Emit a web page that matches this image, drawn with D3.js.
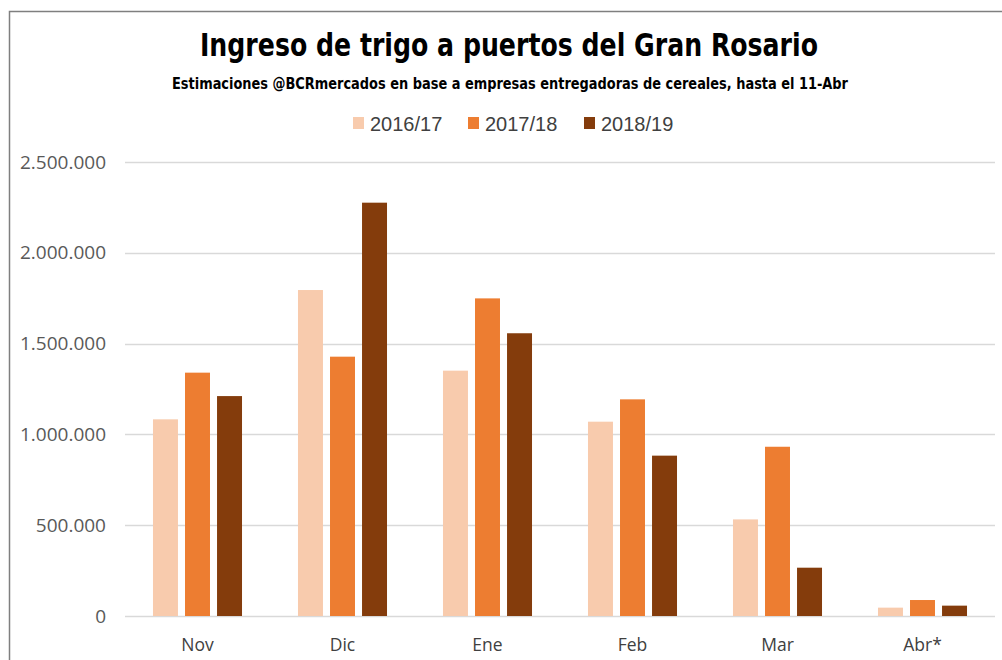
<!DOCTYPE html>
<html>
<head>
<meta charset="utf-8">
<script src="https://cdn.jsdelivr.net/npm/d3@7"></script>
<style>
  body { margin: 0; background: #fff; }
  svg { display: block; }
</style>
</head>
<body>
<div id="chart"></div>
<script>
const categories = ["Nov", "Dic", "Ene", "Feb", "Mar", "Abr*"];
const seriesNames = ["2016/17", "2017/18", "2018/19"];
const colors = ["#F8CBAD", "#ED7D31", "#843C0C"];
const v201617 = [1083000, 1795000, 1351000, 1070000, 532000, 46000];
const v201718 = [1340000, 1428000, 1749000, 1193000, 932000, 88000];
const v201819 = [1211000, 2276000, 1557000, 883000, 266000, 57000];
const yTicks = [0, 500000, 1000000, 1500000, 2000000, 2500000];

const width = 1002;
const height = 660;
const margin = { top: 162, right: 7, bottom: 44, left: 125 };

const values = [v201617, v201718, v201819];
const data = categories.map((c, i) => ({
  cat: c,
  vals: seriesNames.map((s, j) => ({ key: s, value: values[j][i], color: colors[j] }))
}));

const svg = d3.select("#chart").append("svg")
  .attr("width", width)
  .attr("height", height);

// frame (only top and left show in the crop)
svg.append("path")
  .attr("d", `M9.5,${height} V11.5 H${width}`)
  .attr("fill", "none")
  .attr("stroke", "#7f7f7f")
  .attr("stroke-width", 1.5);

const x0 = d3.scaleBand().domain(categories)
  .range([margin.left, width - margin.right])
  .paddingInner(0.386).paddingOuter(0.193);
const x1 = d3.scaleBand().domain(seriesNames)
  .range([0, x0.bandwidth()])
  .paddingInner(0.22).paddingOuter(0);
const y = d3.scaleLinear().domain([0, 2500000])
  .range([height - margin.bottom, margin.top]);

const fmt = d3.formatLocale({ decimal: ",", thousands: ".", grouping: [3], currency: ["$", ""] }).format(",.0f");

// grid
svg.append("g")
  .selectAll("line").data(yTicks).join("line")
  .attr("x1", margin.left).attr("x2", width - margin.right)
  .attr("y1", d => Math.round(y(d)) + 0.5).attr("y2", d => Math.round(y(d)) + 0.5)
  .attr("stroke", "#d9d9d9")
  .attr("stroke-width", 1.5);

// y axis labels
const yAxis = d3.axisLeft(y).tickValues(yTicks).tickFormat(fmt).tickSize(0).tickPadding(0);
svg.append("g")
  .attr("transform", `translate(${margin.left - 19},0)`)
  .call(yAxis)
  .call(g => g.select(".domain").remove())
  .selectAll("text")
  .attr("font-family", "'Open Sans', 'Liberation Sans', sans-serif")
  .attr("font-size", 19)
  .attr("fill", "#595959");

// bars
svg.append("g").selectAll("g").data(data).join("g")
  .attr("transform", d => `translate(${x0(d.cat)},0)`)
  .selectAll("rect").data(d => d.vals).join("rect")
  .attr("x", d => x1(d.key))
  .attr("width", x1.bandwidth())
  .attr("y", d => y(d.value))
  .attr("height", d => y(0) - y(d.value))
  .attr("fill", d => d.color);

// x axis labels
const xAxis = d3.axisBottom(x0).tickSize(0).tickPadding(0);
svg.append("g")
  .attr("transform", `translate(0,${y(0) + 35})`)
  .call(xAxis)
  .call(g => g.select(".domain").remove())
  .selectAll("text")
  .attr("dy", 0)
  .attr("font-family", "'Open Sans', 'Liberation Sans', sans-serif")
  .attr("font-size", 17.5)
  .attr("fill", "#404040");

// title
svg.append("text")
  .attr("x", 509).attr("y", 56)
  .attr("text-anchor", "middle")
  .attr("font-family", "'DejaVu Sans Condensed', 'Liberation Sans', sans-serif")
  .attr("font-weight", "bold")
  .attr("font-size", 32)
  .attr("textLength", 618)
  .attr("lengthAdjust", "spacingAndGlyphs")
  .attr("fill", "#000")
  .text("Ingreso de trigo a puertos del Gran Rosario");

svg.append("text")
  .attr("x", 510).attr("y", 88.5)
  .attr("text-anchor", "middle")
  .attr("font-family", "'DejaVu Sans Condensed', 'Liberation Sans', sans-serif")
  .attr("font-weight", "bold")
  .attr("font-size", 15)
  .attr("textLength", 676)
  .attr("lengthAdjust", "spacingAndGlyphs")
  .attr("fill", "#000")
  .text("Estimaciones @BCRmercados en base a empresas entregadoras de cereales, hasta el 11-Abr");

// legend
const legendX = [353, 468, 584];
const legend = svg.append("g").selectAll("g").data(seriesNames).join("g")
  .attr("transform", (d, i) => `translate(${legendX[i]},123)`);
legend.append("rect")
  .attr("x", 0).attr("y", -6)
  .attr("width", 11).attr("height", 12)
  .attr("fill", (d, i) => colors[i]);
legend.append("text")
  .attr("x", 17).attr("y", 8)
  .attr("font-family", "'Liberation Sans', sans-serif")
  .attr("font-size", 20)
  .attr("fill", "#404040")
  .text(d => d);
</script>
</body>
</html>
